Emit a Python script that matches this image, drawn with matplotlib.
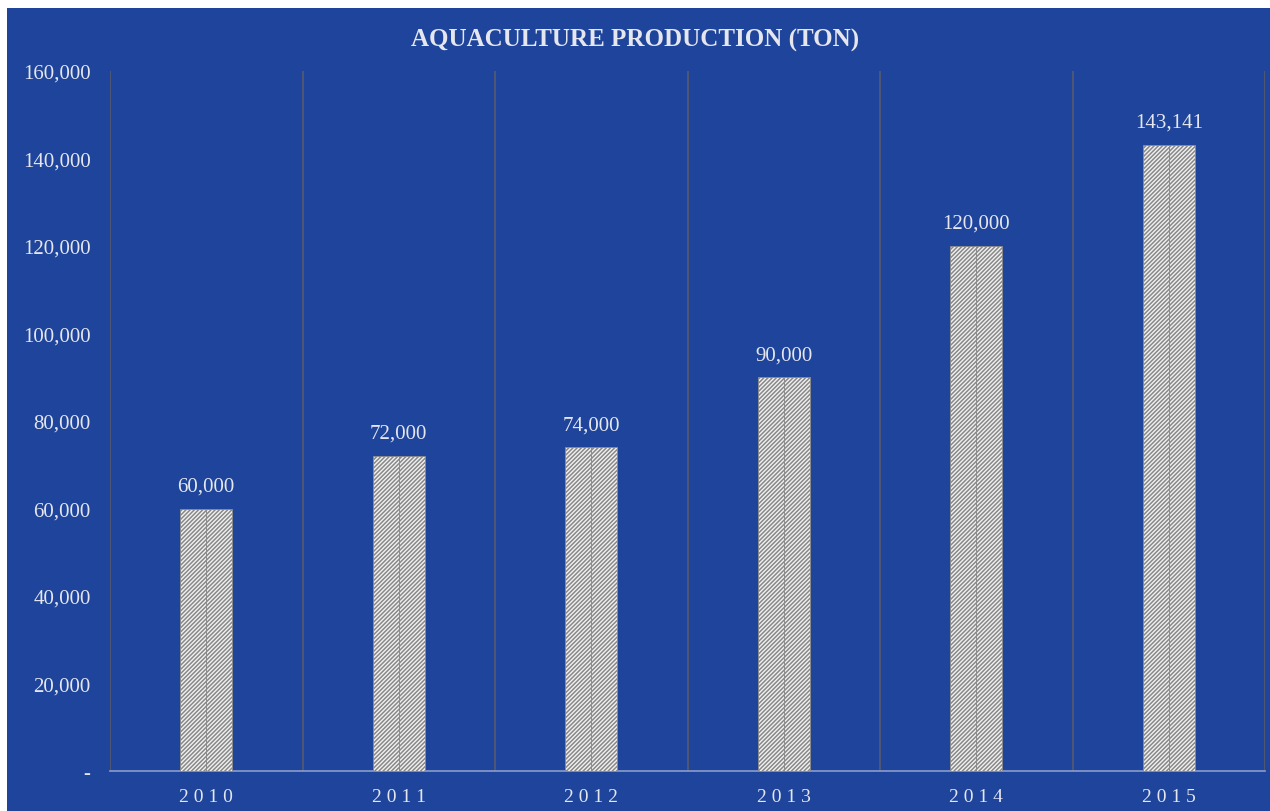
import matplotlib.pyplot as plt
from matplotlib.patches import Rectangle
from matplotlib.ticker import FuncFormatter
import numpy as np

years = ['2010', '2011', '2012', '2013', '2014', '2015']
production = [60000, 72000, 74000, 90000, 120000, 143141]
yticks = [0, 20000, 40000, 60000, 80000, 100000, 120000, 140000, 160000]

BG = '#1e459b'
TXT = '#e6e6ee'

plt.rcParams['font.family'] = ['Liberation Serif', 'DejaVu Serif']
plt.rcParams['hatch.color'] = '#4a4a4a'
plt.rcParams['hatch.linewidth'] = 1.1

fig = plt.figure(figsize=(12.7, 8.12), dpi=100)
fig.patch.set_facecolor(BG)
# thin white margin on the top and left of the blue panel
fig.patches.append(Rectangle((0, 0), 7 / 1270, 1, transform=fig.transFigure,
                             facecolor='white', edgecolor='none', zorder=-1))
fig.patches.append(Rectangle((0, 1 - 9 / 812), 1, 9 / 812, transform=fig.transFigure,
                             facecolor='white', edgecolor='none', zorder=-1))

ax = fig.add_axes([110 / 1270, 40 / 812, 1155 / 1270, 700 / 812])
ax.set_facecolor('none')

x = np.arange(len(years))
w = 0.27
# each bar drawn as two hatched halves, which gives the thin centre line
ax.bar(x - w / 4, production, width=w / 2, color='#f2f2f2', hatch='////////',
       edgecolor='#888888', linewidth=0.6, zorder=3)
ax.bar(x + w / 4, production, width=w / 2, color='#f2f2f2', hatch='////////',
       edgecolor='#888888', linewidth=0.6, zorder=3)

for xi, v in zip(x, production):
    ax.text(xi, v + 3000, f'{v:,}', ha='center', va='bottom',
            color=TXT, fontsize=15)

ax.set_xlim(-0.5, len(years) - 0.5)
ax.set_ylim(0, 160000)
ax.set_yticks(yticks)
ax.yaxis.set_major_formatter(FuncFormatter(lambda v, p: '-' if v == 0 else f'{int(v):,}'))
ax.set_xticks(x)
ax.set_xticklabels([' '.join(y) for y in years])

# vertical separators between categories
for b in np.arange(-0.5, len(years), 1.0):
    ax.axvline(b, color='#5a5a6a', linewidth=1.2, zorder=1)

for s in ['top', 'right', 'left']:
    ax.spines[s].set_visible(False)
ax.spines['bottom'].set_color('#8a9ccc')
ax.spines['bottom'].set_linewidth(1.2)

ax.tick_params(axis='both', length=0, colors=TXT)
ax.tick_params(axis='y', pad=14, labelsize=15)
ax.tick_params(axis='x', pad=12, labelsize=14)

fig.text(0.5, 1 - 40 / 812, 'AQUACULTURE PRODUCTION (TON)', ha='center', va='center',
         color=TXT, fontsize=18, fontweight='bold')

fig.savefig('out.png', dpi=100, facecolor=fig.get_facecolor())
